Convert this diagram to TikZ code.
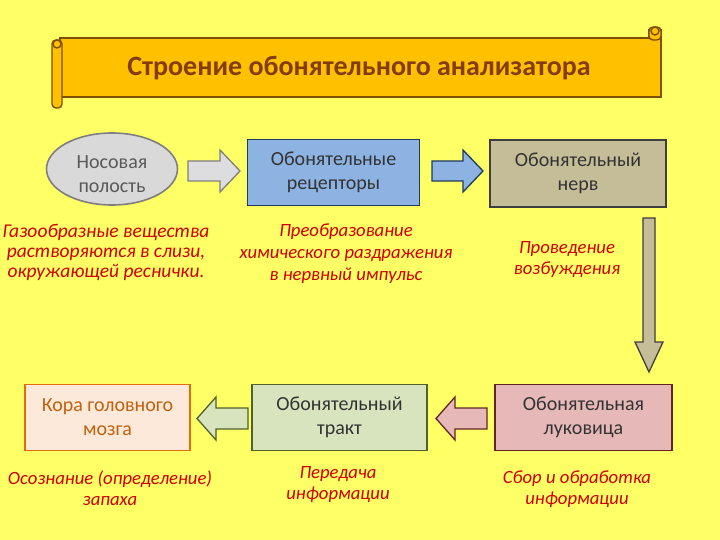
\documentclass[tikz,border=0pt]{standalone}
\usepackage{fontspec}
\setmainfont{Carlito}
\usetikzlibrary{shapes.geometric}
\definecolor{bg}{HTML}{FFFF66}
\definecolor{banner}{HTML}{FFC000}
\definecolor{bannerline}{HTML}{7F4F00}
\definecolor{titlec}{HTML}{843C0C}
\definecolor{nosefill}{HTML}{D9D9D9}
\definecolor{noseline}{HTML}{7F7F7F}
\definecolor{nosetext}{HTML}{595959}
\definecolor{recfill}{HTML}{8DB3E2}
\definecolor{recline}{HTML}{1F3A60}
\definecolor{nervfill}{HTML}{C4BD97}
\definecolor{nervline}{HTML}{3F3F3F}
\definecolor{korafill}{HTML}{FDE9D9}
\definecolor{koraline}{HTML}{E46C0A}
\definecolor{koratext}{HTML}{C0620F}
\definecolor{traktfill}{HTML}{D7E4BD}
\definecolor{traktline}{HTML}{4F6228}
\definecolor{lukfill}{HTML}{E6B9B8}
\definecolor{lukline}{HTML}{632523}
\definecolor{capred}{HTML}{D00000}
\definecolor{arrgray}{HTML}{DDDDE0}
\tikzset{
  boxtext/.style={font=\fontsize{20}{24}\selectfont, align=center, text=black!80},
  organ/.style={draw, line width=1.6pt, boxtext, minimum width=173pt, minimum height=66pt, inner sep=0pt},
  caption/.style={font=\fontsize{18.7}{21}\selectfont\itshape, text=capred, align=center},
  blockarrow/.style={line width=1.3pt, line join=miter}
}
\begin{document}
\begin{tikzpicture}[x=1pt,y=-1pt]
\useasboundingbox (0,0) rectangle (720,540);
\fill[bg] (0,0) rectangle (720,540);
% banner
\begin{scope}[draw=bannerline, line width=1.4pt, fill=banner]
\filldraw (649,30) -- (661,30) -- (661,97) -- (60,97) -- (60,38) -- (649,38) -- cycle;
\filldraw[rounded corners=4pt] (52,40) rectangle (62,108);
\filldraw (57,44) circle (4);
\filldraw[rounded corners=4pt] (649,27) rectangle (661,40);
\filldraw (655,31) circle (4);
\end{scope}
\node[font=\fontsize{28}{32}\selectfont\bfseries, text=titlec] (title) at (359,68) {Строение обонятельного анализатора};
% row 1
\node[ellipse, draw=noseline, fill=nosefill, line width=1.6pt, minimum width=131pt, minimum height=72pt, inner sep=0pt] (nose) at (112,169) {};
\node[boxtext, text=nosetext] (nosetxt) at ([yshift=-5pt]nose.center) {Носовая\\полость};
\node[organ, draw=recline, fill=recfill, minimum width=172pt] (rec) at (333.5,172.5) {Обонятельные\\рецепторы};
\node[organ, draw=nervline, fill=nervfill, minimum width=176pt, minimum height=67pt] (nerv) at (578,173.5) {Обонятельный\\нерв};
% row 2
\node[organ, draw=koraline, fill=korafill, text=koratext, minimum width=165pt] (kora) at (107.5,417.5) {Кора головного\\мозга};
\node[organ, draw=traktline, fill=traktfill, minimum width=175pt] (trakt) at (339.5,417.5) {Обонятельный\\тракт};
\node[organ, draw=lukline, fill=lukfill, minimum width=177pt] (luk) at (583.5,417.5) {Обонятельная\\луковица};
% arrows
\filldraw[blockarrow, draw=noseline, fill=arrgray] (188,161) -- (220,161) -- (220,150) -- (240,171) -- (220,192) -- (220,181) -- (188,181) -- cycle;
\filldraw[blockarrow, draw=recline, fill=recfill] (432,161) -- (463,161) -- (463,150) -- (483,171) -- (463,192) -- (463,181) -- (432,181) -- cycle;
\filldraw[blockarrow, draw=nervline, fill=nervfill] (643,218) -- (655,218) -- (655,342) -- (663,342) -- (649,372) -- (635,342) -- (643,342) -- cycle;
\filldraw[blockarrow, draw=traktline, fill=traktfill] (248,408) -- (216,408) -- (216,397) -- (197,418.5) -- (216,440) -- (216,429) -- (248,429) -- cycle;
\filldraw[blockarrow, draw=lukline, fill=lukfill] (487,408) -- (455,408) -- (455,397) -- (436,418.5) -- (455,440) -- (455,429) -- (487,429) -- cycle;
% captions
\node[caption, font=\fontsize{19.5}{20}\selectfont\itshape] (c1) at (106,252) {Газообразные вещества\\растворяются в слизи,\\окружающей реснички.};
\node[caption, font=\fontsize{18.7}{22}\selectfont\itshape] (c2) at (346,254) {Преобразование\\химического раздражения\\в нервный импульс};
\node[caption] (c3) at (567,259.5) {Проведение\\возбуждения};
\node[caption] (c4) at (110,488.5) {Осознание (определение)\\запаха};
\node[caption] (c5) at (338,485) {Передача\\информации};
\node[caption] (c6) at (577,489) {Сбор и обработка\\информации};
\end{tikzpicture}
\end{document}
